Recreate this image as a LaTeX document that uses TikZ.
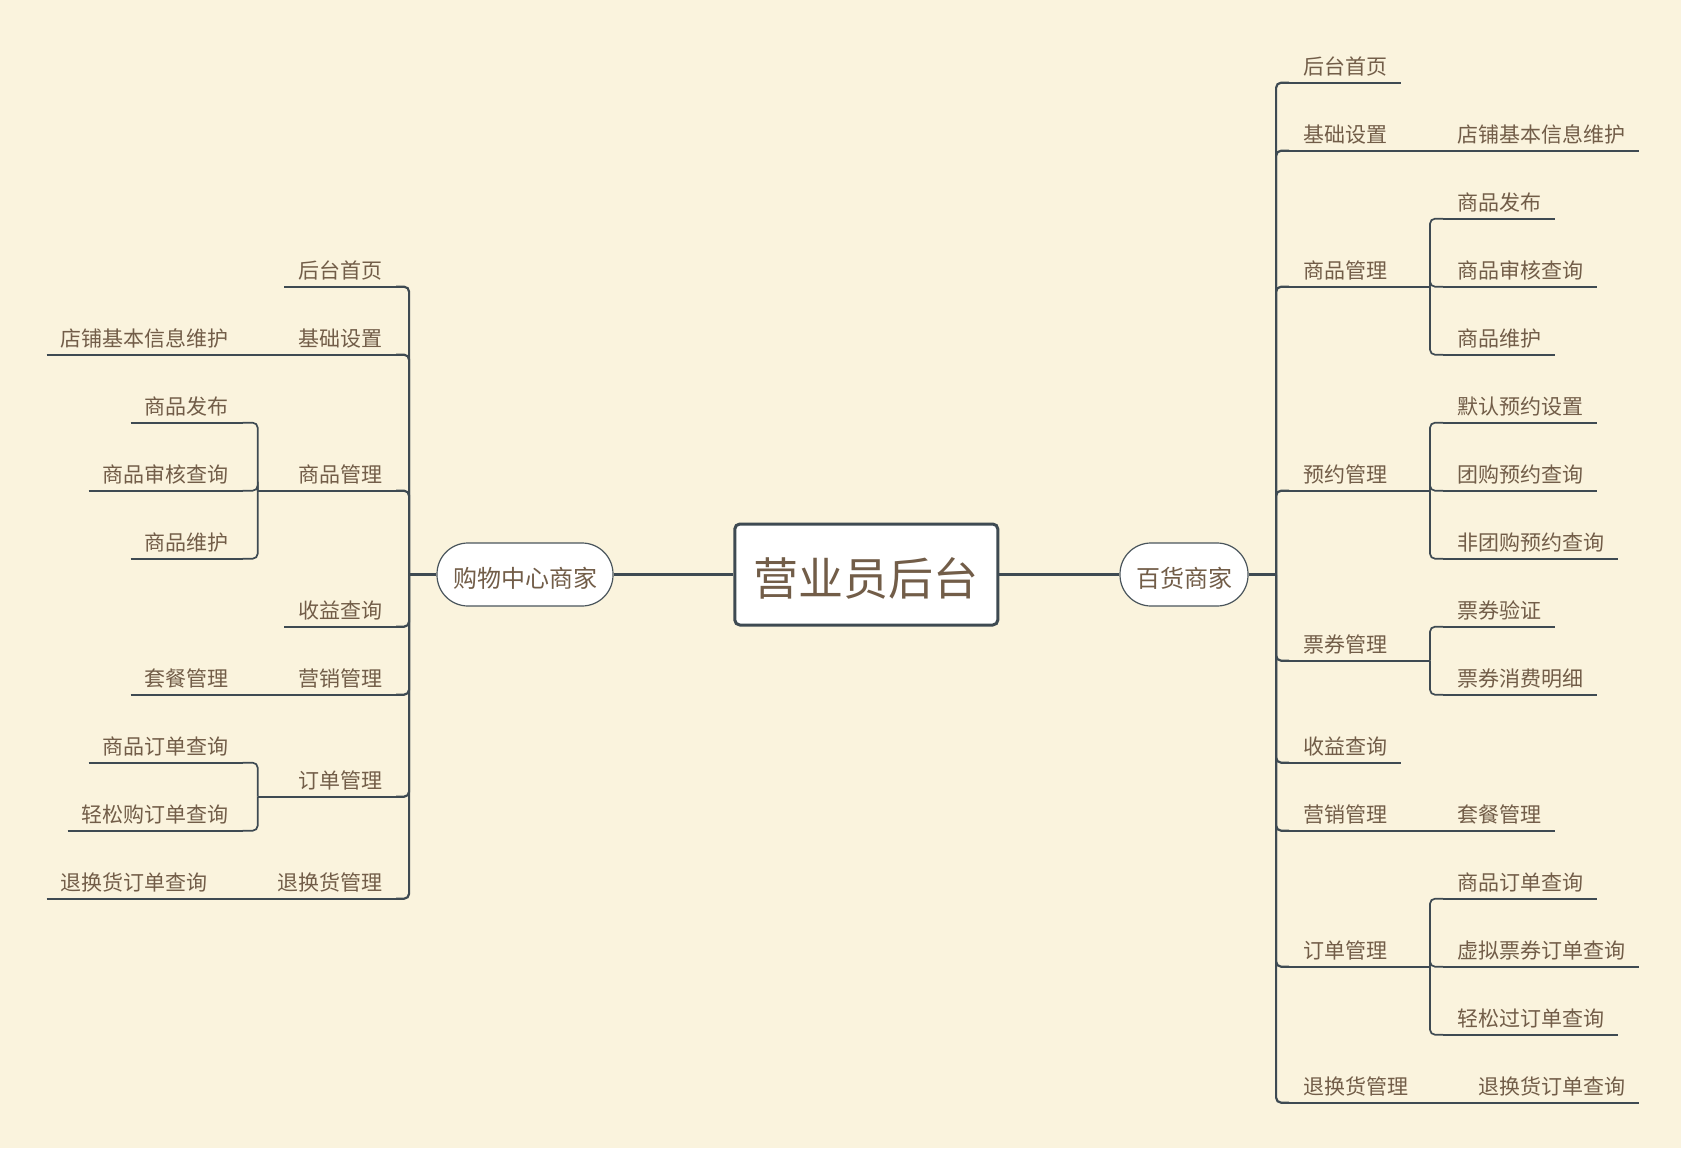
\documentclass[tikz,border=0pt]{standalone}
\usepackage{fontspec}
\setmainfont{Noto Sans CJK SC}
\definecolor{bg}{HTML}{FAF3DD}
\definecolor{txt}{HTML}{725D48}
\definecolor{ln}{HTML}{3E4A52}
\definecolor{hubln}{HTML}{4A555C}
\begin{document}
\begin{tikzpicture}[x=1pt,y=-1pt,
  topic/.style={font=\fontsize{21pt}{25pt}\selectfont, text=txt, inner xsep=14pt, inner ysep=0pt, text height=19pt, text depth=8.5pt, outer sep=0pt},
  rt/.style={topic, anchor=south west},
  lt/.style={topic, anchor=south east},
  uline/.style={draw=ln, line width=1.7pt},
  trunk/.style={draw=ln, line width=2.2pt, rounded corners=5pt},
  sub/.style={draw=ln, line width=1.7pt, rounded corners=5pt},
  mainc/.style={draw=ln, line width=3pt},
  hub/.style={draw=hubln, line width=1.2pt, fill=white, rounded corners=31pt, minimum height=63pt, inner xsep=16pt, inner ysep=0pt, text height=26.9pt, text depth=1.7pt, font=\fontsize{24pt}{28pt}\selectfont, text=txt},
  rootbox/.style={draw=ln, line width=3pt, fill=white, rounded corners=5pt, minimum width=263pt, minimum height=101pt, inner ysep=0pt, text height=45.4pt, text depth=3.2pt, font=\fontsize{45pt}{50pt}\selectfont, text=txt}
]
\useasboundingbox (0,0) rectangle (1691,1155);
\fill[white] (0,0) rectangle (1691,1155);
\fill[bg] (0,0) rectangle (1681,1148);

% central and hubs
\node[rootbox] (root) at (866.3,574.5) {营业员后台};
\node[hub] (gw) at (525,574.5) {购物中心商家};
\node[hub] (bh) at (1184,574.5) {百货商家};

% right level 1
\node[rt] (r1) at (1289,82.7) {后台首页};
\node[rt] (r2) at (1289,150.7) {基础设置};
\node[rt] (r3) at (1289,286.7) {商品管理};
\node[rt] (r4) at (1289,490.7) {预约管理};
\node[rt] (r5) at (1289,660.7) {票券管理};
\node[rt] (r6) at (1289,762.7) {收益查询};
\node[rt] (r7) at (1289,830.7) {营销管理};
\node[rt] (r8) at (1289,966.7) {订单管理};
\node[rt] (r9) at (1289,1102.7) {退换货管理};
% right level 2
\node[rt] (r2a) at (1443,150.7) {店铺基本信息维护};
\node[rt] (r3a) at (1443,218.7) {商品发布};
\node[rt] (r3b) at (1443,286.7) {商品审核查询};
\node[rt] (r3c) at (1443,354.7) {商品维护};
\node[rt] (r4a) at (1443,422.7) {默认预约设置};
\node[rt] (r4b) at (1443,490.7) {团购预约查询};
\node[rt] (r4c) at (1443,558.7) {非团购预约查询};
\node[rt] (r5a) at (1443,626.7) {票券验证};
\node[rt] (r5b) at (1443,694.7) {票券消费明细};
\node[rt] (r7a) at (1443,830.7) {套餐管理};
\node[rt] (r8a) at (1443,898.7) {商品订单查询};
\node[rt] (r8b) at (1443,966.7) {虚拟票券订单查询};
\node[rt] (r8c) at (1443,1034.7) {轻松过订单查询};
\node[rt] (r9a) at (1464,1102.7) {退换货订单查询};

% left level 1
\node[lt] (l1) at (396,286.7) {后台首页};
\node[lt] (l2) at (396,354.7) {基础设置};
\node[lt] (l3) at (396,490.7) {商品管理};
\node[lt] (l4) at (396,626.7) {收益查询};
\node[lt] (l5) at (396,694.7) {营销管理};
\node[lt] (l6) at (396,796.7) {订单管理};
\node[lt] (l7) at (396,898.7) {退换货管理};
% left level 2
\node[lt] (l2a) at (242.5,354.7) {店铺基本信息维护};
\node[lt] (l3a) at (242.5,422.7) {商品发布};
\node[lt] (l3b) at (242.5,490.7) {商品审核查询};
\node[lt] (l3c) at (242.5,558.7) {商品维护};
\node[lt] (l5a) at (242.5,694.7) {套餐管理};
\node[lt] (l6a) at (242.5,762.7) {商品订单查询};
\node[lt] (l6b) at (242.5,830.7) {轻松购订单查询};
\node[lt] (l7a) at (221.5,898.7) {退换货订单查询};

% underlines
\foreach \n in {r1,r2,r3,r4,r5,r6,r7,r8,r9,r2a,r3a,r3b,r3c,r4a,r4b,r4c,r5a,r5b,r7a,r8a,r8b,r8c,r9a,
                l1,l2,l3,l4,l5,l6,l7,l2a,l3a,l3b,l3c,l5a,l6a,l6b,l7a}
  \draw[uline] (\n.south west) -- (\n.south east);

% main connectors
\draw[mainc] (gw.east) -- (root.west);
\draw[mainc] (root.east) -- (bh.west);

% right trunk
\draw[trunk] (bh.east) -- ++(27.5,0) coordinate (jr);
\foreach \n in {r1,r2,r3,r4,r5,r6,r7,r8,r9}
  \draw[trunk] (jr) |- (\n.south west);

% left trunk
\draw[trunk] (gw.west) -- ++(-27.3,0) coordinate (jl);
\foreach \n in {l1,l2,l3,l4,l5,l6,l7}
  \draw[trunk] (jl) |- (\n.south east);

% right sub-branches
\draw[uline] (r2.south east) -- (r2a.south west);
\draw[uline] (r7.south east) -- (r7a.south west);
\draw[uline] (r9.south east) -- (r9a.south west);
\draw[uline] (r3.south east) -- ++(29,0) coordinate (s3);
\foreach \n in {r3a,r3b,r3c} \draw[sub] (s3) |- (\n.south west);
\draw[uline] (r4.south east) -- ++(29,0) coordinate (s4);
\foreach \n in {r4a,r4b,r4c} \draw[sub] (s4) |- (\n.south west);
\draw[uline] (r5.south east) -- ++(29,0) coordinate (s5);
\foreach \n in {r5a,r5b} \draw[sub] (s5) |- (\n.south west);
\draw[uline] (r8.south east) -- ++(29,0) coordinate (s8);
\foreach \n in {r8a,r8b,r8c} \draw[sub] (s8) |- (\n.south west);

% left sub-branches
\draw[uline] (l2.south west) -- (l2a.south east);
\draw[uline] (l5.south west) -- (l5a.south east);
\draw[uline] (l7.south west) -- (l7a.south east);
\draw[uline] (l3.south west) -- ++(-26.3,0) coordinate (t3);
\foreach \n in {l3a,l3b,l3c} \draw[sub] (t3) |- (\n.south east);
\draw[uline] (l6.south west) -- ++(-26.3,0) coordinate (t6);
\foreach \n in {l6a,l6b} \draw[sub] (t6) |- (\n.south east);
\end{tikzpicture}
\end{document}
